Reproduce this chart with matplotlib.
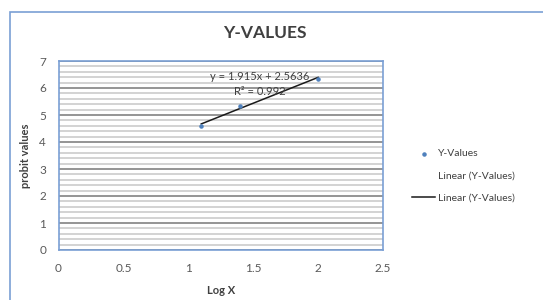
import numpy as np
import matplotlib
matplotlib.use("Agg")
import matplotlib.pyplot as plt
from matplotlib.patches import Rectangle

plt.rcParams['font.family'] = ['Lato', 'DejaVu Sans']

log_x = [1.1, 1.4, 2.0]
probit = [4.6, 5.33, 6.35]
slope = 1.915
intercept = 2.5636
r2 = 0.992
x_ticks = [0, 0.5, 1, 1.5, 2, 2.5]
y_ticks = [0, 1, 2, 3, 4, 5, 6, 7]

W, H = 543, 300
fig = plt.figure(figsize=(W / 100, H / 100), dpi=100)

# outer chart border (cut off at right/bottom like the screenshot)
fig.patches.append(Rectangle((10 / W, -0.1), 1.2, 1 - 12 / H + 0.1, transform=fig.transFigure,
                             fill=False, edgecolor='#7a9fd4', lw=1.2))

ax = fig.add_axes([58.5 / W, 1 - 250 / H, (383 - 58.5) / W, (250 - 61) / H])
ax.set_xlim(0, 2.5)
ax.set_ylim(0, 7)
ax.set_xticks(x_ticks)
ax.set_xticklabels([f"{t:g}" for t in x_ticks])
ax.set_yticks(y_ticks)
ax.set_yticks(np.arange(0, 7.01, 0.2), minor=True)
ax.grid(True, which='minor', axis='y', color='#d0d0d0', lw=1.3)
ax.grid(True, which='major', axis='y', color='#8c8c8c', lw=1.3)
ax.set_axisbelow(True)
ax.tick_params(which='both', length=0, labelsize=8.5, colors='#595959')
ax.tick_params(axis='x', pad=9)
ax.tick_params(axis='y', pad=9)
for s in ax.spines.values():
    s.set_color('#7a9fd4')
    s.set_linewidth(1.2)

ax.scatter(log_x, probit, s=5, color='#4f81bd', zorder=3, label='Y-Values')
fx = np.array([min(log_x), max(log_x)])
ax.plot([], [], color='none', label='Linear (Y-Values)')
ax.plot(fx, slope * fx + intercept, color='#1a1a1a', lw=1.1, zorder=2, label='Linear (Y-Values)')

ax.text(1.55, 6.42, f"y = {slope}x + {intercept}", fontsize=8, color='#404040', ha='center', va='center')
ax.text(1.55, 5.88, f"R\u00b2 = {r2}", fontsize=8, color='#404040', ha='center', va='center')

ax.set_xlabel('Log X', fontsize=8, fontweight='bold', color='#404040', labelpad=8)
ax.set_ylabel('probit values', fontsize=8, fontweight='bold', color='#404040', labelpad=6)
fig.text(265 / W, 1 - 33 / H, 'Y-VALUES', fontsize=12.5, fontweight='bold', color='#404040',
         ha='center', va='center')

leg = fig.legend(*ax.get_legend_handles_labels(), loc='center left',
                 bbox_to_anchor=(403 / W, 1 - 176 / H), frameon=False, fontsize=7.5,
                 handlelength=2.2, labelspacing=1.25, handletextpad=0.3, markerscale=1.0)
for t in leg.get_texts():
    t.set_color('#404040')

fig.savefig('out.png', dpi=100)
